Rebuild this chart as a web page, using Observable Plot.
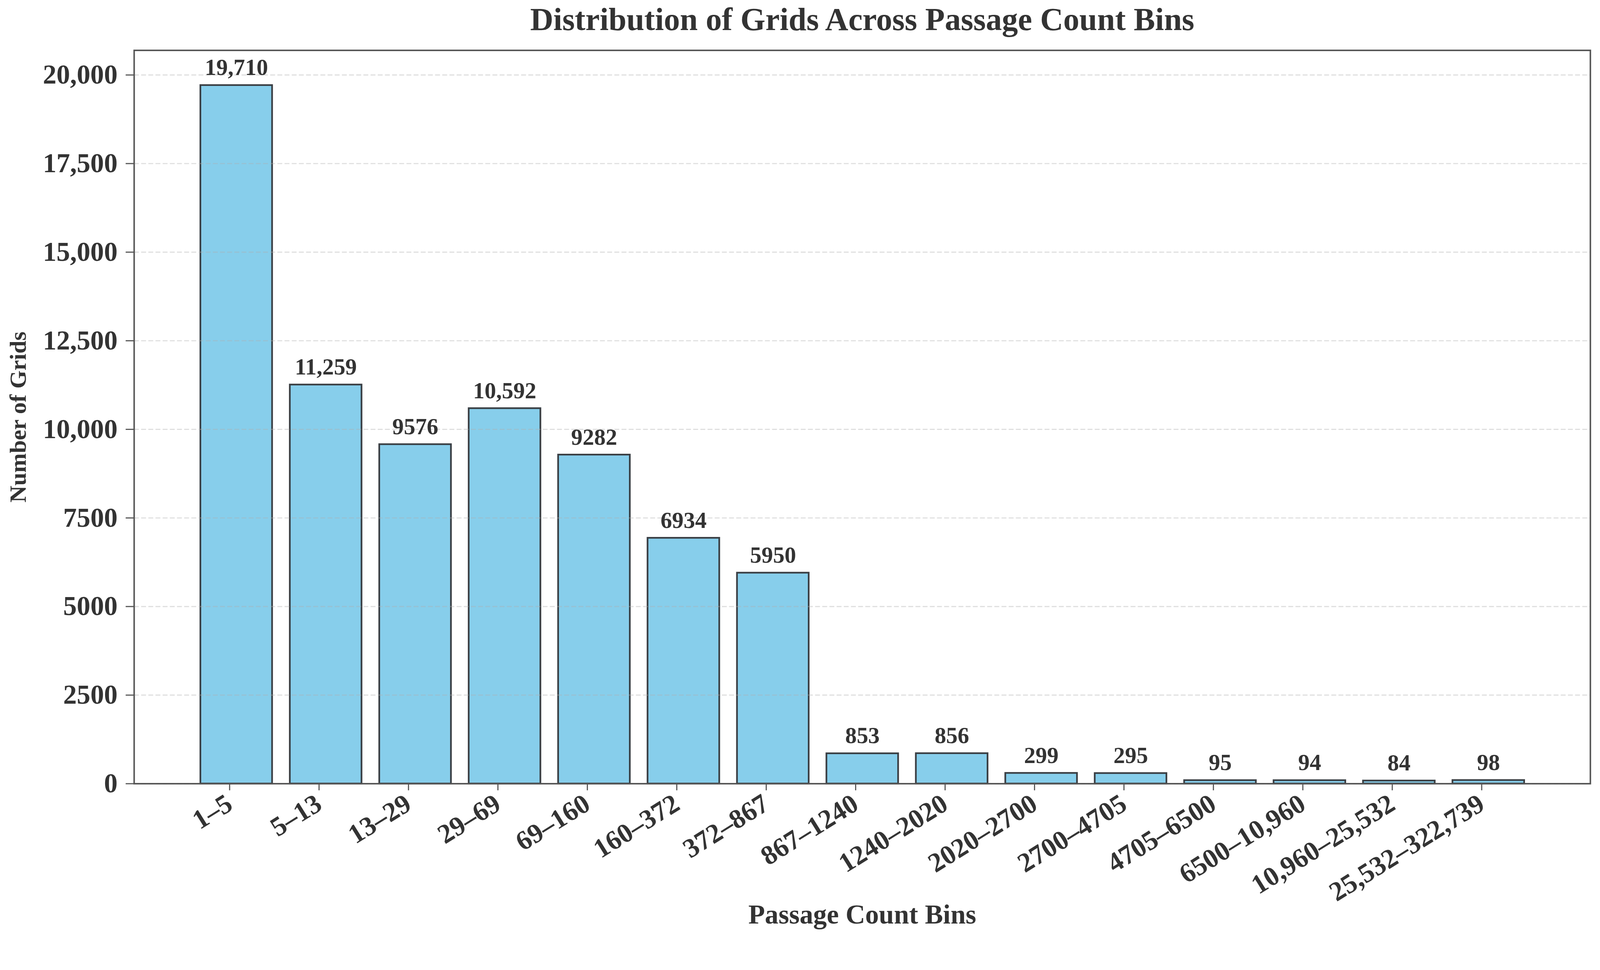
<!DOCTYPE html>
<html>
<head>
<meta charset="utf-8">
<script src="https://cdn.jsdelivr.net/npm/d3@7"></script>
<script src="https://cdn.jsdelivr.net/npm/@observablehq/plot@0.6"></script>
<style>
  html, body { margin: 0; padding: 0; background: white; overflow: hidden; }
  #chart svg { display: block; }
</style>
</head>
<body>
<div id="chart"></div>
<script>
const bins = ["1–5", "5–13", "13–29", "29–69", "69–160", "160–372", "372–867", "867–1240", "1240–2020", "2020–2700", "2700–4705", "4705–6500", "6500–10,960", "10,960–25,532", "25,532–322,739"];
const counts = [19710, 11259, 9576, 10592, 9282, 6934, 5950, 853, 856, 299, 295, 95, 94, 84, 98];
const yTicks = [0, 2500, 5000, 7500, 10000, 12500, 15000, 17500, 20000];
const titleText = "Distribution of Grids Across Passage Count Bins";
const xLabel = "Passage Count Bins";
const yLabel = "Number of Grids";

const data = bins.map((b, i) => ({bin: b, count: counts[i]}));
const fmt = d => d >= 10000 ? d3.format(",")(d) : String(d);

const W = 4240, H = 2484;
const mTop = 133, mBottom = H - 2077, mLeft = 355, mRight = W - 4214;

const chart = Plot.plot({
  width: W,
  height: H,
  marginTop: mTop,
  marginBottom: mBottom,
  marginLeft: mLeft,
  marginRight: mRight,
  style: {
    fontFamily: "'Liberation Serif', 'Times New Roman', serif",
    fontWeight: "bold",
    fontSize: "70px",
    color: "#333",
    background: "white"
  },
  x: {type: "band", domain: bins, paddingInner: 0.2, paddingOuter: 0.74, align: 0.5, label: null},
  y: {domain: [0, 20695], label: null},
  marks: [
    Plot.barY(data, {x: "bin", y: "count", fill: "#87CEEB", stroke: "#3a3f44", strokeWidth: 4.5}),
    Plot.gridY(yTicks, {stroke: "#b0b0b0", strokeOpacity: 0.4, strokeWidth: 3, strokeDasharray: "13,6"}),
    Plot.text(data, {x: "bin", y: "count", text: d => fmt(d.count), dy: -27, lineAnchor: "bottom", fontSize: 61, fill: "#333"}),
    Plot.frame({stroke: "#555", strokeWidth: 4}),
    Plot.axisY(yTicks, {tickFormat: fmt, tickSize: 22, tickPadding: 22, stroke: "#555", strokeWidth: 3, fill: "#333", fontSize: 72, label: null}),
    Plot.axisX({tickSize: 18, tickPadding: 28, tickRotate: -32, dx: -18, stroke: "#555", strokeWidth: 3, fill: "#333", fontSize: 72, label: null}),
    Plot.text([titleText], {frameAnchor: "top", dy: -54, lineAnchor: "bottom", fontSize: 85, fill: "#333"}),
    Plot.text([xLabel], {frameAnchor: "bottom", dy: 371, lineAnchor: "bottom", fontSize: 72, fill: "#333"}),
    Plot.text([yLabel], {frameAnchor: "left", dx: -307, rotate: -90, lineAnchor: "middle", textAnchor: "middle", fontSize: 62, fill: "#333"})
  ]
});
document.getElementById("chart").appendChild(chart);
</script>
</body>
</html>
